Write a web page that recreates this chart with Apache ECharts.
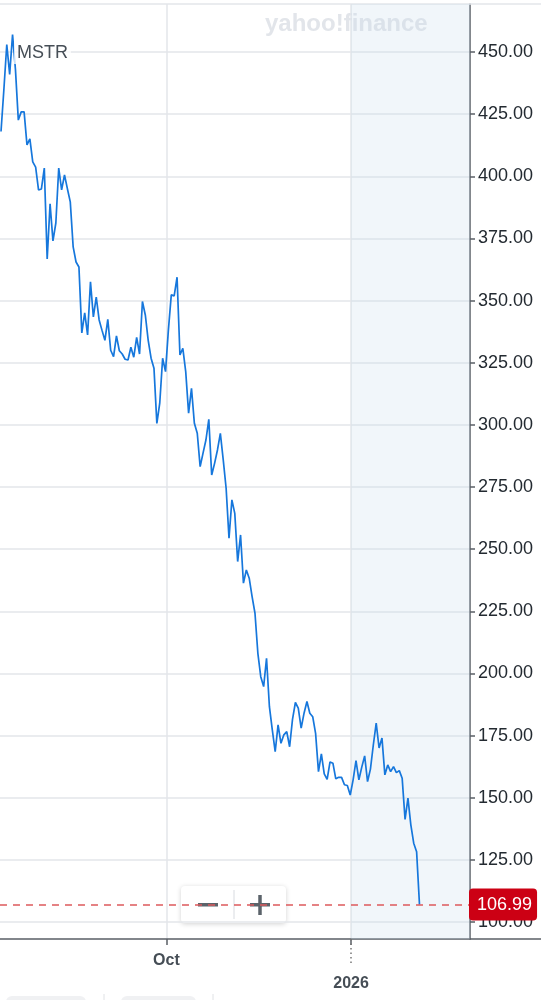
<!DOCTYPE html>
<html>
<head>
<meta charset="utf-8">
<script src="https://cdn.jsdelivr.net/npm/echarts@6/dist/echarts.min.js"></script>
<style>
html,body{margin:0;padding:0;background:#fff;}
#c{width:541px;height:1000px;}
</style>
</head>
<body>
<div id="c"></div>
<script>
// MSTR daily closes (trading-day index 0 = first visible session)
const values = [
418, 435, 453, 441, 457, 443, 422.6, 425.9, 425.9, 412.6,
415, 405.8, 403.7, 394.5, 394.9, 403.3, 366.7, 388.9, 374, 381.2,
403.3, 394.5, 400.5, 395, 389.7, 371.6, 365.5, 363.5, 337, 345,
336.2, 357.5, 343.4, 351.4, 342.2, 338, 334, 342.4, 330, 327.4,
335.8, 329.8, 328.5, 326.4, 326.1, 331.2, 327.2, 335.2, 328.5, 349.6,
344.2, 334, 326.8, 322.8, 300.6, 308.7, 326.8, 321.4, 338.2, 352.3,
351.9, 359.4, 328.1, 330.8, 321.4, 304.7, 314.7, 300.6, 296.6, 283.2,
288.6, 293.9, 302.2, 279.8, 284.5, 289.9, 296.6, 285.9, 274.5, 254.4,
269.8, 264.4, 245, 255.7, 236.3, 241.6, 238.3, 230.9, 224.2, 208.1,
198.7, 194.7, 206.1, 186.6, 177.3, 168.5, 179.3, 171.9, 175.3, 176.6,
170.5, 181.5, 188.3, 186, 178, 184, 188.7, 184, 182.6, 175.9,
160.5, 167.6, 159.6, 157.4, 164.4, 163.9, 157.6, 158.2, 158.2, 155.2,
154.9, 151.1, 157.2, 164.9, 157.2, 162.3, 166.8, 156.5, 161.5, 171.2,
180, 170, 174, 159.2, 163.2, 160.5, 162.5, 160.1, 160.9, 157.8,
141.3, 149.8, 139.1, 131.7, 128.3, 106.99
];
const ticker = 'MSTR';
const lastPrice = 106.99;
const xTickPos = [57.3, 121.3];
const xTickLabels = ['Oct', '2026'];
const yTicks = [100, 125, 150, 175, 200, 225, 250, 275, 300, 325, 350, 375, 400, 425, 450];

const FONT = 'Liberation Sans, Arial, sans-serif';
const chart = echarts.init(document.getElementById('c'), null, {renderer: 'canvas'});
const data = values.map((v, i) => [i, v]);
const xMin = -0.35, xMax = 162.5;

chart.setOption({
  animation: false,
  backgroundColor: '#ffffff',
  grid: {left: 0, right: 71, top: 4, bottom: 61, containLabel: false},
  xAxis: [{
    type: 'value', min: xMin, max: xMax, position: 'bottom',
    axisLine: {show: true, onZero: false, lineStyle: {color: '#5a5f66', width: 1.5}},
    axisTick: {show: true, customValues: xTickPos, length: 6, lineStyle: {color: '#5a5f66', width: 1.5}},
    axisLabel: {
      show: true, customValues: xTickPos, margin: 10,
      fontFamily: FONT, fontSize: 16, fontWeight: 'bold', color: '#464e56', lineHeight: 23,
      formatter: function (v) {
        let k = 0;
        for (let j = 0; j < xTickPos.length; j++) if (Math.abs(xTickPos[j] - v) < 0.01) k = j;
        return k === 0 ? xTickLabels[0] : '\n' + xTickLabels[k];
      }
    },
    splitLine: {show: true, lineStyle: {color: '#e3e6ea', width: 1.5}}
  }, {
    type: 'value', min: xMin, max: xMax, position: 'bottom',
    axisLine: {show: false, onZero: false},
    axisTick: {show: true, customValues: [xTickPos[1]], length: 26, lineStyle: {color: '#777', width: 1.5, type: [1.5, 3]}},
    axisLabel: {show: false},
    splitLine: {show: false}
  }],
  yAxis: {
    type: 'value', position: 'right', min: 93.16, max: 469.3,
    axisLine: {show: true, onZero: false, lineStyle: {color: '#5a5f66', width: 1.5}},
    axisTick: {show: true, customValues: yTicks, length: 5, lineStyle: {color: '#5a5f66', width: 1.5}},
    axisLabel: {
      show: true, customValues: yTicks, margin: 8,
      fontFamily: FONT, fontSize: 18, color: '#232a31',
      formatter: v => v.toFixed(2)
    },
    splitLine: {show: true, lineStyle: {color: '#e3e6ea', width: 1.5}}
  },
  series: [{
    type: 'line',
    data: data,
    showSymbol: false,
    symbol: 'none',
    lineStyle: {color: '#1677dc', width: 1.7},
    z: 3,
    markArea: {
      silent: true,
      itemStyle: {color: 'rgba(199,219,235,0.25)'},
      data: [[{xAxis: xTickPos[1]}, {xAxis: xMax}]]
    },
    markLine: {
      silent: true,
      symbol: ['none', 'none'],
      lineStyle: {color: '#dd5a5c', type: [7, 6], width: 1.5},
      label: {
        show: true, position: 'end', distance: -1,
        formatter: lastPrice.toFixed(2),
        fontFamily: FONT, fontSize: 18, color: '#ffffff',
        backgroundColor: '#cc0014', borderRadius: 4,
        padding: [8, 5, 6, 8]
      },
      data: [{yAxis: lastPrice}]
    }
  }],
  graphic: [
    {type: 'line', shape: {x1: 0, y1: 4, x2: 541, y2: 4}, style: {stroke: '#e3e6ea', lineWidth: 1.5}, z: 1},
    {type: 'line', shape: {x1: 470, y1: 939, x2: 541, y2: 939}, style: {stroke: '#5a5f66', lineWidth: 1.5}, z: 1},
    {type: 'text', left: 265, top: 12, z: 1,
      style: {text: 'yahoo!finance', fontFamily: FONT, fontSize: 24, fontWeight: 'bold', fill: '#e2e5ea'}},
    {type: 'text', left: 14, top: 42, z: 10,
      style: {text: ticker, fontFamily: FONT, fontSize: 18, fill: '#464e56',
        backgroundColor: 'rgba(255,255,255,0.75)', padding: [2, 3, 2, 3]}},
    {type: 'group', left: 181, top: 886, z: 20, children: [
      {type: 'rect', shape: {x: 0, y: 0, width: 105, height: 37, r: 4},
        style: {fill: '#ffffff', shadowBlur: 5, shadowColor: 'rgba(0,0,0,0.18)', shadowOffsetY: 1}},
      {type: 'line', shape: {x1: 53, y1: 4, x2: 53, y2: 33}, style: {stroke: '#d8dbe0', lineWidth: 1}},
      {type: 'rect', shape: {x: 17, y: 17, width: 20, height: 3.5}, style: {fill: '#5b636a'}},
      {type: 'rect', shape: {x: 69, y: 17, width: 20, height: 3.5}, style: {fill: '#5b636a'}},
      {type: 'rect', shape: {x: 77.25, y: 9, width: 3.5, height: 20}, style: {fill: '#5b636a'}}
    ]},
    {type: 'rect', shape: {x: 6, y: 996, width: 80, height: 12, r: 6}, style: {fill: '#f0f1f3'}, z: 1},
    {type: 'rect', shape: {x: 121, y: 996, width: 75, height: 12, r: 6}, style: {fill: '#f0f1f3'}, z: 1},
    {type: 'line', shape: {x1: 104, y1: 994, x2: 104, y2: 1000}, style: {stroke: '#e0e2e5', lineWidth: 1}, z: 1},
    {type: 'line', shape: {x1: 213, y1: 994, x2: 213, y2: 1000}, style: {stroke: '#e0e2e5', lineWidth: 1}, z: 1}
  ]
});
</script>
</body>
</html>
